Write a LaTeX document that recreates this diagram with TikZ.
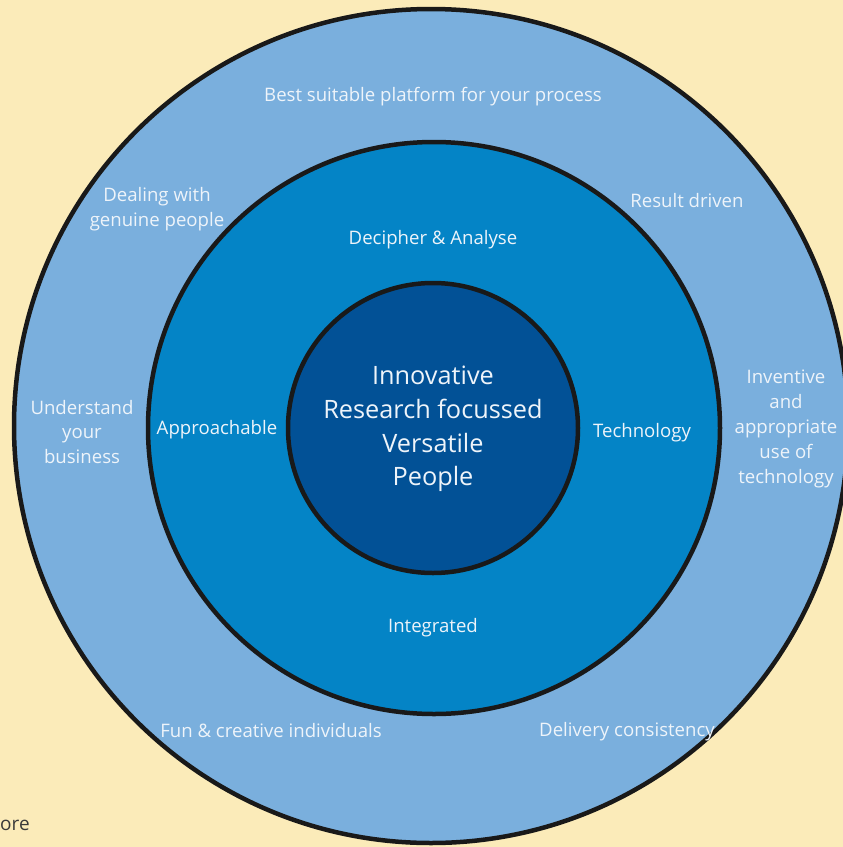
\documentclass[tikz,border=0pt]{standalone}
\usepackage{fontspec}
\setmainfont{Open Sans}
\definecolor{bg}{HTML}{FBEBB9}
\definecolor{ringout}{HTML}{7AAFDD}
\definecolor{ringmid}{HTML}{0484C6}
\definecolor{core}{HTML}{025196}
\definecolor{txt}{HTML}{EEF4FA}
\definecolor{dark}{HTML}{3A3A3A}
\tikzset{
  ring/.style={draw=black!90, line width=4.5pt},
  lbl/.style={text=txt, align=center, font=\fontsize{18.6}{24.8}\selectfont, inner sep=0pt},
  corelbl/.style={text=txt, align=center, font=\fontsize{25.3}{33.6}\selectfont, inner sep=0pt}
}
\begin{document}
\begin{tikzpicture}[x=1pt,y=-1pt]
\useasboundingbox (0,0) rectangle (843,847);
\fill[bg] (0,0) rectangle (843,847);
\begin{scope}
\clip (0,0) rectangle (843,847);
\draw[ring, fill=ringout] (431,426) circle (417);
\end{scope}
\draw[ring, fill=ringmid] (434,428) circle (286);
\draw[ring, fill=core] (433,428) circle (145);

\node[corelbl] (core) at (433,429) {Innovative\\Research focussed\\Versatile\\People};

\node[lbl] (best) at (433,97) {Best suitable platform for your process};
\node[lbl] (deal) at (157,209) {Dealing with\\genuine people};
\node[lbl] (result) at (687,201) {Result driven};
\node[lbl] (deci) at (433,240) {Decipher \& Analyse};
\node[lbl] (under) at (82,432) {Understand\\your\\business};
\node[lbl] (appr) at (217,430) {Approachable};
\node[lbl] (tech) at (642,433) {Technology};
\node[lbl] (inv) at (786,429) {Inventive\\and\\appropriate\\use of\\technology};
\node[lbl] (integ) at (433,628) {Integrated};
\node[lbl] (fun) at (271,731) {Fun \& creative individuals};
\node[lbl] (deliv) at (627,732) {Delivery consistency};
\node[text=dark, font=\fontsize{19}{22}\selectfont, inner sep=0pt, anchor=west] (ore) at (0,825) {ore};
\end{tikzpicture}
\end{document}
